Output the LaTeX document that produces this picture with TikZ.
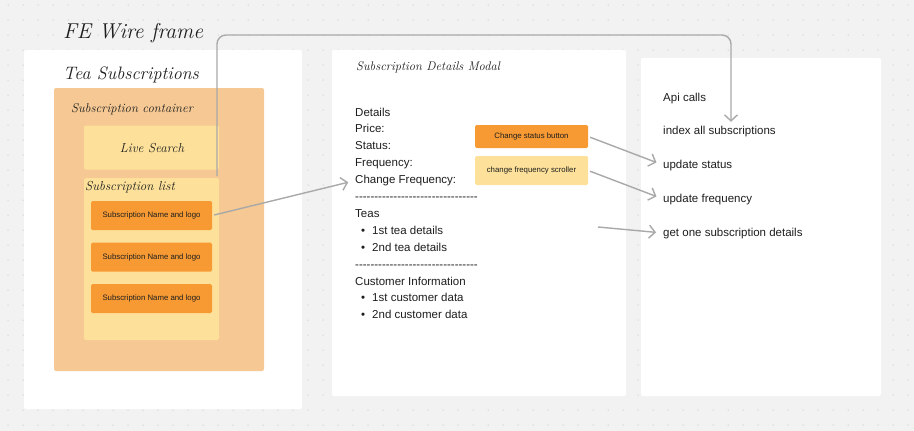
\documentclass[tikz,border=0pt]{standalone}
\usepackage{fontspec}
\usepackage{tikz}
\usetikzlibrary{arrows.meta}
\newfontfamily\uifont{Liberation Sans}
\definecolor{canvas}{HTML}{F2F2F2}
\definecolor{dotgray}{HTML}{ABABAB}
\definecolor{ink}{HTML}{1E1E1E}
\definecolor{peach}{HTML}{F5C894}
\definecolor{cream}{HTML}{FDE19A}
\definecolor{tileorange}{HTML}{F79A33}
\definecolor{linkgray}{HTML}{A9A9A9}
\begin{document}
\begin{tikzpicture}[x=1pt,y=-1pt,
	link/.style={draw=linkgray, line width=1.4pt, -{Straight Barb[length=6pt,width=13pt]}, shorten <=2pt, shorten >=7pt},
	panel/.style={fill=white, rounded corners=2pt},
	hand/.style={text=ink, font=\rmfamily\itshape, inner sep=0pt},
	plain/.style={text=ink, font=\uifont\fontsize{11.5}{13}\selectfont, inner sep=0pt, anchor=west, text height=8.5pt, text depth=2.5pt},
	tile/.style={fill=tileorange, rounded corners=1.5pt, text=ink, font=\uifont\fontsize{7.8}{9}\selectfont, minimum width=121pt, minimum height=29pt, inner sep=0pt}]

	% Canvas and dot grid
	\fill[canvas] (0,0) rectangle (914,431);
	\useasboundingbox (0,0) rectangle (914,431);
	\foreach \i in {0,...,60}
		\foreach \j in {0,...,28}
			\fill[dotgray] (8+15*\i,5+15*\j) circle (0.5pt);

	% Draw panels
	\fill[panel] (24,50) rectangle (302,409);
	\fill[panel] (332,50) rectangle (626,396);
	\fill[panel] (641,58) rectangle (881,396);

	% Labels
	\node[hand, anchor=west] (title) at (63,33) {\fontsize{21.5}{24}\selectfont FE Wire frame};
	\node[hand, anchor=west] (teasubs) at (63,75) {\fontsize{18}{20}\selectfont Tea Subscriptions};

	% Subscription container
	\fill[peach, rounded corners=2pt] (54,88) rectangle (264,371);
	\node[hand, anchor=west] (contlabel) at (71,109) {\fontsize{12.7}{14}\selectfont Subscription container};
	\node[fill=cream, rounded corners=2pt, minimum width=135pt, minimum height=44pt, inner sep=0pt] (lsearch) at (151.5,147.5) {};
	\node[hand] (lslabel) at (152,148) {\fontsize{13}{15}\selectfont Live Search};
	\fill[cream, rounded corners=2pt] (84,178) rectangle (219,340);
	\node[hand, anchor=west] (listlabel) at (85,187) {\fontsize{13}{15}\selectfont Subscription list};
	\foreach \y [count=\k] in {215.5,257,298.5}
		\node[tile] (item\k) at (151.5,\y) {Subscription Name and logo};

	% Subscription details modal
	\node[hand, anchor=west] (modal) at (356,67) {\fontsize{12.5}{14}\selectfont Subscription Details Modal};
	\node[plain] (details) at (355,113) {Details};
	\node[plain] (price) at (355,129.9) {Price:};
	\node[plain] (status) at (355,146.8) {Status:};
	\node[plain] (freq) at (355,163.7) {Frequency:};
	\node[plain] (chfreq) at (355,180.6) {Change Frequency:};
	\node[plain] (rule1) at (355,197.5) {--------------------------------};
	\node[plain] (teas) at (355,214.4) {Teas};
	\node[plain] (tea1) at (361,231.3) {•\hspace{7pt}1st tea details};
	\node[plain] (tea2) at (361,248.2) {•\hspace{7pt}2nd tea details};
	\node[plain] (rule2) at (355,265.1) {--------------------------------};
	\node[plain] (cust) at (355,282) {Customer Information};
	\node[plain] (cust1) at (361,298.9) {•\hspace{7pt}1st customer data};
	\node[plain] (cust2) at (361,315.8) {•\hspace{7pt}2nd customer data};

	\node[tile, minimum width=113pt, minimum height=23pt] (stbutton) at (531.5,136.5) {Change status button};
	\node[tile, fill=cream, minimum width=113pt, minimum height=29pt] (scroller) at (531.5,170.5) {change frequency scroller};

	% Api calls
	\node[plain] (api) at (663,98) {Api calls};
	\node[plain] (index) at (663,131) {index all subscriptions};
	\node[plain] (upstat) at (663,165) {update status};
	\node[plain] (upfreq) at (663,199) {update frequency};
	\node[plain] (getone) at (663,233) {get one subscription details};

	% Connectors
	\coordinate (lsfoot) at (217,176);
	\coordinate (turn) at (731,35);
	\coordinate (gostart) at (598,227);
	\draw[link, rounded corners=9pt, shorten <=0pt, shorten >=3.5pt] (lsfoot) |- (turn) -- (turn |- index.north);
	\draw[link] (item1.east) -- (chfreq.west);
	\draw[link] (stbutton.east) -- (upstat.west);
	\draw[link] (scroller.east) -- (upfreq.west);
	\draw[link, shorten <=0pt] (gostart) -- (getone.west);

\end{tikzpicture}
\end{document}
